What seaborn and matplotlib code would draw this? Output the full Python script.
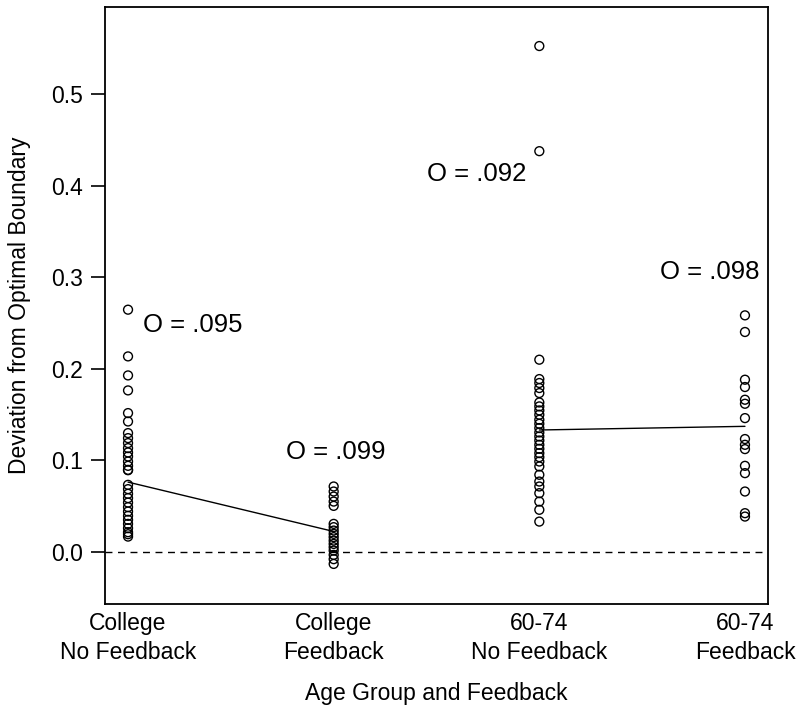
import matplotlib
matplotlib.use("Agg")
import matplotlib.pyplot as plt
import numpy as np
import pandas as pd
import seaborn as sns

# categories (x axis)
groups = ["College\nNo Feedback", "College\nFeedback", "60-74\nNo Feedback", "60-74\nFeedback"]

# deviation values
college_nofb = [0.2646, 0.2135, 0.1927, 0.1763, 0.1515, 0.1423, 0.1296, 0.1241, 0.1187,
                0.1132, 0.1084, 0.1040, 0.0985, 0.0938, 0.0894, 0.0890, 0.0730, 0.0683,
                0.0632, 0.0585, 0.0536, 0.0486, 0.0438, 0.0391, 0.0347, 0.0303, 0.0256,
                0.0212, 0.0190, 0.0164]
college_fb = [0.0712, 0.0657, 0.0602, 0.0547, 0.0500, 0.0303, 0.0267, 0.0230, 0.0194,
              0.0158, 0.0120, 0.0084, 0.0048, 0.0011, -0.0036, -0.0083, -0.0135]
old_nofb = [0.553, 0.438, 0.2099, 0.1887, 0.1844, 0.1789, 0.1734, 0.1631, 0.1588, 0.1544,
            0.1497, 0.1442, 0.1398, 0.1351, 0.1303, 0.1259, 0.1215, 0.1168, 0.1124,
            0.1077, 0.1033, 0.0985, 0.0931, 0.0840, 0.0766, 0.0712, 0.0639, 0.0547,
            0.0457, 0.0328]
old_fb = [0.2584, 0.2402, 0.1880, 0.1800, 0.1661, 0.1617, 0.1460, 0.1231, 0.1168, 0.1121,
          0.0938, 0.0858, 0.0657, 0.0420, 0.0383]

# connecting segments (group pairs) and their end values
trend_pairs = [(0, 1), (2, 3)]
trend_y = [0.076, 0.022, 0.133, 0.137]

o_labels = ["O = .095", "O = .099", "O = .092", "O = .098"]

df = pd.DataFrame({
    "group": np.repeat(groups, [len(college_nofb), len(college_fb), len(old_nofb), len(old_fb)]),
    "dev": college_nofb + college_fb + old_nofb + old_fb,
})

trend = pd.DataFrame({
    "pos": [i for p in trend_pairs for i in p],
    "dev": trend_y,
    "pair": [k for k, p in enumerate(trend_pairs) for _ in p],
})

sns.set_style("ticks")
plt.rcParams["font.family"] = ["Liberation Sans", "DejaVu Sans"]
plt.rcParams["text.color"] = "black"
plt.rcParams["axes.labelcolor"] = "black"

fig = plt.figure(figsize=(8, 7.19), dpi=100)
ax = fig.add_axes([0.13125, 0.16, 0.82875, 0.83])

sns.stripplot(data=df, x="group", y="dev", order=groups, jitter=False, color="black",
              size=6.4, marker="o", linewidth=1.0, edgecolor="black", ax=ax, zorder=3)
for c in ax.collections:
    c.set_facecolor("none")
    c.set_edgecolor("black")

sns.lineplot(data=trend, x="pos", y="dev", units="pair", estimator=None, color="black",
             linewidth=1.0, ax=ax, legend=False)

ax.axhline(0, color="black", linestyle=(0, (5, 4)), linewidth=1.0)

# annotations
ax.text(0.073, 0.2405, o_labels[0], fontsize=18.5, color="black")
ax.text(0.768, 0.1012, o_labels[1], fontsize=18.5, color="black")
ax.text(1.454, 0.4053, o_labels[2], fontsize=18.5, color="black")
ax.text(2.587, 0.2983, o_labels[3], fontsize=18.5, color="black")

ax.set_xlim(-0.112, 3.112)
ax.set_ylim(-0.0573, 0.5955)
ax.set_yticks([0.0, 0.1, 0.2, 0.3, 0.4, 0.5])
ax.set_yticklabels(["0.0", "0.1", "0.2", "0.3", "0.4", "0.5"])
ax.set_xticks(range(len(groups)))
ax.set_xticklabels(groups)
for t in ax.get_xticklabels():
    t.set_linespacing(1.3)

ax.tick_params(axis="y", length=10, width=1.2, direction="out", labelsize=16.5, pad=6,
               colors="black")
ax.tick_params(axis="x", length=0, labelsize=16.5, pad=6, colors="black")
for s in ax.spines.values():
    s.set_visible(True)
    s.set_linewidth(1.3)
    s.set_color("black")

ax.set_xlabel("Age Group and Feedback", fontsize=16.5, labelpad=13)
ax.set_ylabel("Deviation from Optimal Boundary", fontsize=16.5, labelpad=14)

fig.savefig("out.png", dpi=100)
